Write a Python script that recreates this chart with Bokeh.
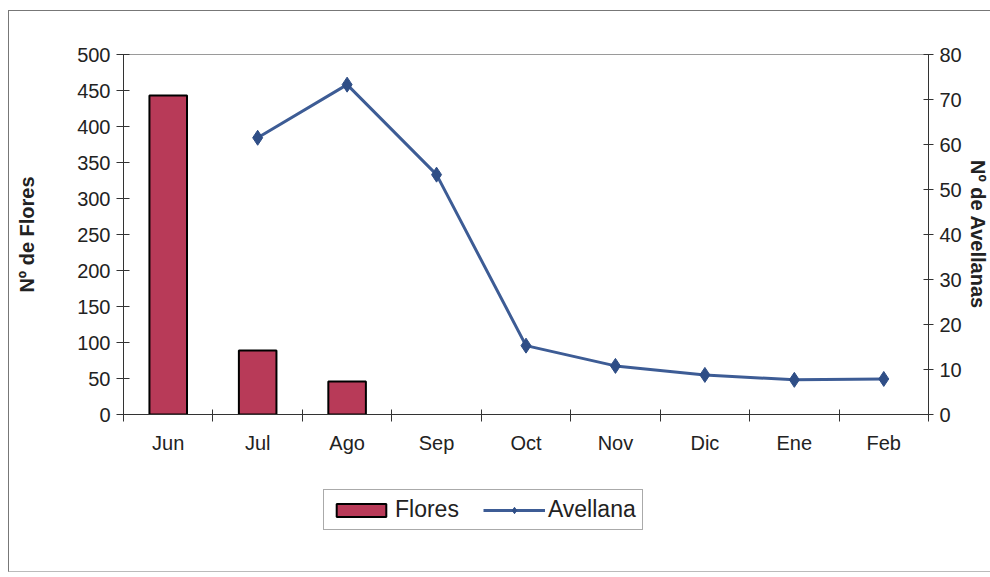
from bokeh.plotting import figure
from bokeh.layouts import column
from bokeh.models import (Range1d, LinearAxis, FixedTicker, Legend, LegendItem,
                          ColumnDataSource)
from bokeh.embed import file_html
from bokeh.resources import INLINE

# Monthly counts
months = ["Jun", "Jul", "Ago", "Sep", "Oct", "Nov", "Dic", "Ene", "Feb"]
flores = [443, 89, 46, None, None, None, None, None, None]
avellana = [None, 61.5, 73.3, 53.3, 15.3, 10.8, 8.8, 7.7, 7.9]

FONT = "Liberation Sans"
BAR_COLOR = "#B83A58"
LINE_COLOR = "#3D5C95"
MARK_COLOR = "#2F4E86"

x_pos = [i + 0.5 for i in range(len(months))]

bar_src = ColumnDataSource(dict(
    x=[x for x, v in zip(x_pos, flores) if v is not None],
    top=[v for v in flores if v is not None],
))
line_src = ColumnDataSource(dict(
    x=[x for x, v in zip(x_pos, avellana) if v is not None],
    y=[v for v in avellana if v is not None],
))

# --- main chart -------------------------------------------------------------
p = figure(width=982, height=450, output_backend="svg", toolbar_location=None,
           x_range=Range1d(0, len(months)), y_range=Range1d(0, 500),
           min_border_left=114, min_border_right=62,
           min_border_top=43, min_border_bottom=47)
p.styles = {"margin-left": "8px", "margin-top": "10px",
            "border-left": "1px solid #777", "border-top": "1px solid #777"}
p.background_fill_color = "white"
p.border_fill_color = "white"
p.outline_line_color = "#9a9a9a"
p.outline_line_width = 1
p.xgrid.visible = False
p.ygrid.visible = False

p.extra_y_ranges = {"avellana": Range1d(0, 80)}

bar_style = dict(fill_color=BAR_COLOR, line_color="black", line_width=2)
line_style = dict(line_color=LINE_COLOR, line_width=3)
mark_style = dict(marker="diamond", size=15, fill_color=MARK_COLOR,
                  line_color=MARK_COLOR)

p.vbar(x="x", top="top", width=0.42, source=bar_src, **bar_style)
p.line(x="x", y="y", source=line_src, y_range_name="avellana", **line_style)
p.scatter(x="x", y="y", source=line_src, y_range_name="avellana", **mark_style)


def style_axis(ax):
    ax.axis_line_color = "#333333"
    ax.axis_line_width = 1
    ax.major_tick_line_color = "#333333"
    ax.minor_tick_line_color = "#333333"
    ax.major_label_text_font = FONT
    ax.major_label_text_font_size = "20px"
    ax.major_label_text_color = "#222222"
    ax.axis_label_text_font = FONT
    ax.axis_label_text_font_size = "20px"
    ax.axis_label_text_font_style = "bold"
    ax.axis_label_text_color = "#222222"


xa = p.xaxis[0]
style_axis(xa)
xa.ticker = FixedTicker(ticks=x_pos, minor_ticks=list(range(len(months) + 1)))
xa.major_label_overrides = {x: m for x, m in zip(x_pos, months)}
xa.major_tick_in = 0
xa.major_tick_out = 0
xa.minor_tick_in = 5
xa.minor_tick_out = 7
xa.major_label_standoff = 10

ya = p.yaxis[0]
style_axis(ya)
ya.ticker = FixedTicker(ticks=list(range(0, 501, 50)))
ya.minor_tick_line_color = None
ya.major_tick_in = 6
ya.major_tick_out = 7
ya.major_label_standoff = 6
ya.axis_label = "Nº de Flores"
ya.axis_label_standoff = 36

ra = LinearAxis(y_range_name="avellana",
                ticker=FixedTicker(ticks=list(range(0, 81, 10))))
style_axis(ra)
ra.minor_tick_line_color = None
ra.major_tick_in = 5
ra.major_tick_out = 5
ra.major_label_standoff = 6
ra.axis_label = "Nº de Avellanas"
ra.axis_label_standoff = 2
p.add_layout(ra, "right")

# --- legend strip under the chart -------------------------------------------
lg = figure(width=982, height=112, output_backend="svg", toolbar_location=None,
            x_range=Range1d(0, 1), y_range=Range1d(0, 1),
            x_axis_location=None, y_axis_location=None, min_border=0)
lg.styles = {"margin-left": "8px",
             "border-left": "1px solid #777", "border-bottom": "1px solid #bbb"}
lg.outline_line_color = None
lg.background_fill_color = "white"
lg.border_fill_color = "white"
lg.xgrid.visible = False
lg.ygrid.visible = False

# legend keys sit outside the visible range, only their styling is used
key_bar = lg.vbar(x=[-5], bottom=[-6], top=[-5], width=0.1, **bar_style)
key_line = lg.line(x=[-6, -5], y=[-5, -5], **line_style)
key_mark = lg.scatter(x=[-5], y=[-5], **mark_style)

legend = Legend(items=[
    LegendItem(label="Flores", renderers=[key_bar]),
    LegendItem(label="Avellana", renderers=[key_line, key_mark]),
], orientation="horizontal", location=(200, 42))
legend.label_text_font = FONT
legend.label_text_font_size = "23px"
legend.label_text_color = "#222222"
legend.glyph_width = 62
legend.glyph_height = 16
legend.label_standoff = 3
legend.spacing = 24
legend.padding = 6
legend.margin = 0
legend.border_line_color = "#555555"
legend.border_line_width = 1
legend.background_fill_alpha = 1
lg.add_layout(legend, "center")

layout = column(p, lg, spacing=0)

open("out.html", "w").write(file_html(layout, INLINE))
